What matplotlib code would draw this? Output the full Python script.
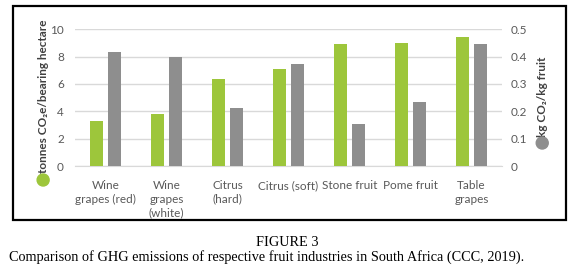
import numpy as np
import matplotlib
matplotlib.use('Agg')
import matplotlib.pyplot as plt
from matplotlib.patches import Rectangle, Ellipse

plt.rcParams['font.family'] = ['Lato', 'DejaVu Sans']

# Data
categories = ['Wine\ngrapes (red)', 'Wine\ngrapes\n(white)', 'Citrus\n(hard)', 'Citrus (soft)',
              'Stone fruit', 'Pome fruit', 'Table\ngrapes']
tonnes_per_ha = [3.3, 3.8, 6.35, 7.1, 8.9, 8.95, 9.45]      # left axis
kg_per_kg_fruit = [0.415, 0.40, 0.212, 0.373, 0.155, 0.234, 0.445]  # right axis

green = '#9DC63B'
grey = '#8E8E8E'
grid_c = '#D9D9D9'
text_c = '#595959'

fig = plt.figure(figsize=(5.75, 2.80), dpi=100)
ax = fig.add_axes([0.1304, 0.407, 0.7426, 0.489])
ax2 = ax.twinx()

x = np.arange(len(categories))
w = 0.21
ax.bar(x - 0.15, tonnes_per_ha, width=w, color=green, zorder=3)
ax2.bar(x + 0.15, kg_per_kg_fruit, width=w, color=grey, zorder=3)

ax.set_xlim(-0.5, len(categories) - 0.5)
ax.set_ylim(0, 10)
ax2.set_ylim(0, 0.5)
ax.set_yticks([0, 2, 4, 6, 8, 10])
ax2.set_yticks([0, 0.1, 0.2, 0.3, 0.4, 0.5])
ax2.set_yticklabels(['0', '0.1', '0.2', '0.3', '0.4', '0.5'])
ax.yaxis.grid(True, color=grid_c, linewidth=1, zorder=0)
ax.set_axisbelow(True)

for a in (ax, ax2):
    for s in a.spines.values():
        s.set_visible(False)
    a.tick_params(length=0, labelsize=8.5, colors=text_c, pad=8)
ax2.tick_params(pad=6)
ax.spines['bottom'].set_visible(True)
ax.spines['bottom'].set_color(grid_c)

ax.set_xticks(x)
ax.set_xticklabels(categories, fontsize=8.5, color=text_c, linespacing=1.3, va='top')
ax.tick_params(axis='x', pad=10)

# axis titles with coloured markers
fig.text(0.075, 0.655, 'tonnes CO₂e/bearing hectare', rotation=90, ha='center', va='center',
         fontsize=8.5, fontweight='bold', color='#404040')
fig.text(0.944, 0.655, 'kg CO₂/kg fruit', rotation=90, ha='center', va='center',
         fontsize=8.5, fontweight='bold', color='#404040')
fig.patches.append(Ellipse((0.075, 1 - 180 / 280), 12 / 575, 12 / 280, transform=fig.transFigure,
                           color=green, zorder=5))
fig.patches.append(Ellipse((0.943, 1 - 143 / 280), 12 / 575, 12 / 280, transform=fig.transFigure,
                           color=grey, zorder=5))

# frame around the chart
fig.patches.append(Rectangle((13 / 575, 1 - 220 / 280), 553 / 575, 214 / 280, transform=fig.transFigure,
                             fill=False, edgecolor='black', linewidth=1.6, zorder=10))

# caption
fig.text(0.5, 1 - 242 / 280, 'FIGURE 3', ha='center', va='center', fontsize=10.3,
         family='Liberation Serif')
fig.text(0.463, 1 - 257 / 280, 'Comparison of GHG emissions of respective fruit industries in South Africa (CCC, 2019).',
         ha='center', va='center', fontsize=10.3, family='Liberation Serif')

fig.savefig('out.png', dpi=100)
